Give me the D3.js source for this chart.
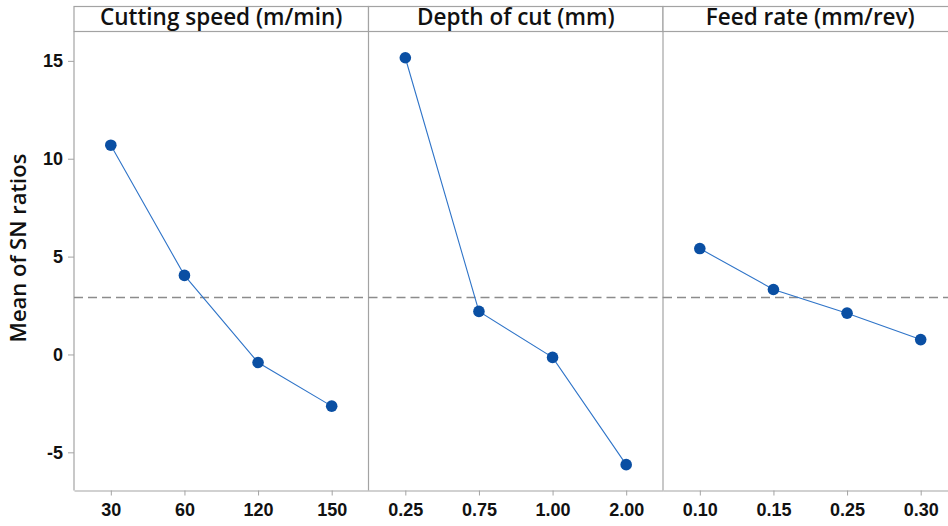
<!DOCTYPE html>
<html>
<head>
<meta charset="utf-8">
<script src="https://cdn.jsdelivr.net/npm/d3@7"></script>
<style>
  body { margin: 0; background: #fff; }
  svg { display: block; font-family: "Open Sans", "Noto Sans", sans-serif; }
</style>
</head>
<body>
<svg id="chart"></svg>
<script>
// factor names and levels
const factors = ['Cutting speed (m/min)', 'Depth of cut (mm)', 'Feed rate (mm/rev)'];
const speedLevels = ['30', '60', '120', '150'];
const depthLevels = ['0.25', '0.75', '1.00', '2.00'];
const feedLevels = ['0.10', '0.15', '0.25', '0.30'];

// mean of SN ratios per level
const speedSN = [10.69, 4.04, -0.41, -2.64];
const depthSN = [15.16, 2.20, -0.15, -5.63];
const feedSN = [5.41, 3.32, 2.11, 0.76];

const yTicks = [-5, 0, 5, 10, 15];

const panels = [
  { title: factors[0], levels: speedLevels, values: speedSN },
  { title: factors[1], levels: depthLevels, values: depthSN },
  { title: factors[2], levels: feedLevels, values: feedSN }
];

const width = 948,
  height = 526;
const plotLeft = 74,
  panelW = 294.5,
  headTop = 6.5,
  plotTop = 31.5,
  plotBottom = 490.5;

const svg = d3.select('#chart').attr('width', width).attr('height', height);

const y = d3.scaleLinear().domain([-6.95, 16.5]).range([plotBottom, plotTop]);

// grand mean of all responses
const grandMean = d3.mean(panels.flatMap((p) => p.values));

const frame = '#a3a3a3';

// y axis
const yAxis = svg
  .append('g')
  .attr('transform', 'translate(' + plotLeft + ',0)')
  .call(d3.axisLeft(y).tickValues(yTicks).tickFormat((d) => String(d)).tickSize(6).tickPadding(5));
yAxis.select('.domain').remove();
yAxis.selectAll('line').attr('stroke', frame);
yAxis.selectAll('text').attr('font-size', 18).attr('font-weight', 600).attr('fill', '#111');

svg
  .append('text')
  .attr('transform', 'translate(26,248) rotate(-90)')
  .attr('text-anchor', 'middle')
  .attr('font-size', 22)
  .attr('font-weight', 600)
  .attr('fill', '#111')
  .text('Mean of SN ratios');

panels.forEach((p, i) => {
  const x0 = plotLeft + i * panelW;
  const x = d3.scalePoint().domain(p.levels).range([x0, x0 + panelW]).padding(0.5);
  const g = svg.append('g');

  // header strip
  g.append('rect')
    .attr('x', x0)
    .attr('y', headTop)
    .attr('width', panelW)
    .attr('height', plotTop - headTop)
    .attr('fill', '#fff')
    .attr('stroke', frame)
    .attr('stroke-width', 1.2);

  g.append('text')
    .attr('x', x0 + panelW / 2)
    .attr('y', plotTop - 7)
    .attr('text-anchor', 'middle')
    .attr('font-size', 22.5)
    .attr('font-weight', 600)
    .attr('fill', '#111')
    .text(p.title);

  // panel left border
  g.append('line')
    .attr('x1', x0).attr('x2', x0)
    .attr('y1', plotTop).attr('y2', plotBottom)
    .attr('stroke', frame)
    .attr('stroke-width', 1.2);

  // bottom axis
  const xAxis = g
    .append('g')
    .attr('transform', 'translate(0,' + plotBottom + ')')
    .call(d3.axisBottom(x).tickSize(5).tickPadding(7.5).tickSizeOuter(0));
  xAxis.select('.domain').attr('stroke', frame).attr('stroke-width', 1.2);
  xAxis.selectAll('line').attr('stroke', frame);
  xAxis.selectAll('text').attr('font-size', 18).attr('font-weight', 600).attr('fill', '#111');

  // reference line at grand mean
  g.append('line')
    .attr('x1', x0).attr('x2', x0 + panelW)
    .attr('y1', y(grandMean)).attr('y2', y(grandMean))
    .attr('stroke', '#8c8c8c')
    .attr('stroke-width', 1.5)
    .attr('stroke-dasharray', '9,5');

  const pts = p.levels.map((l, k) => [x(l), y(p.values[k])]);

  g.append('path')
    .attr('d', d3.line()(pts))
    .attr('fill', 'none')
    .attr('stroke', '#2f74c8')
    .attr('stroke-width', 1.1);

  g.selectAll('circle')
    .data(pts)
    .enter()
    .append('circle')
    .attr('cx', (d) => d[0])
    .attr('cy', (d) => d[1])
    .attr('r', 5.8)
    .attr('fill', '#0a4fa3');
});
</script>
</body>
</html>
